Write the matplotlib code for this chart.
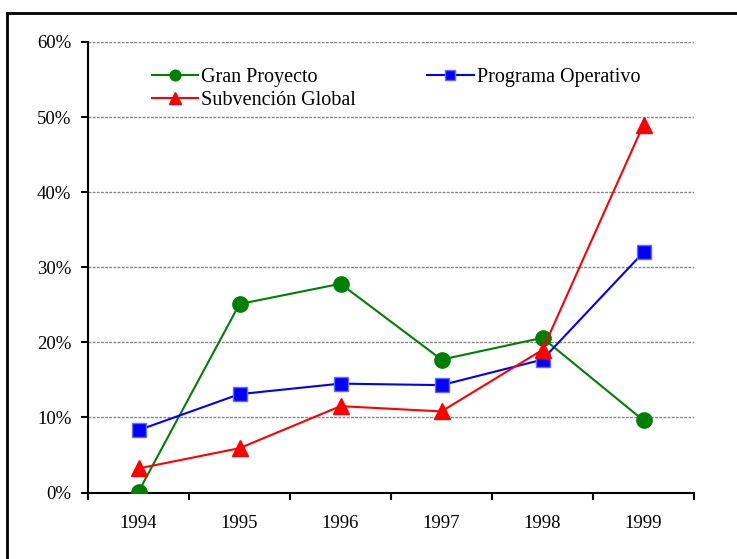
import matplotlib
matplotlib.use("Agg")
import matplotlib.pyplot as plt
from matplotlib.lines import Line2D
from matplotlib.ticker import PercentFormatter, FixedLocator, NullFormatter
import numpy as np

plt.rcParams["font.family"] = ["Liberation Serif", "DejaVu Serif"]

# share of each instrument per year (%)
years = ["1994", "1995", "1996", "1997", "1998", "1999"]
gran_proyecto = [0.1, 25.1, 27.8, 17.7, 20.6, 9.6]
programa_operativo = [8.3, 13.1, 14.5, 14.3, 17.7, 32.0]
subvencion_global = [3.2, 5.9, 11.5, 10.8, 19.0, 49.0]

fig = plt.figure(figsize=(7.37, 5.59), dpi=100)
ax = fig.add_axes([88 / 737, 1 - 492.5 / 559, 606 / 737, 450.5 / 559])

x = np.arange(len(years))
l_gp, = ax.plot(x, gran_proyecto, color="#008000", lw=1.5, marker="o",
                ms=11, mec="#008000", label="Gran Proyecto", zorder=3)
l_po, = ax.plot(x, programa_operativo, color="#0000ff", lw=1.5, marker="s",
                ms=10, mfc="#0000ff", mec="#6a6aff", mew=1.0,
                label="Programa Operativo", zorder=4)
l_sg, = ax.plot(x, subvencion_global, color="#ff0000", lw=1.5, marker="^",
                ms=12, mec="#ff0000", label="Subvención Global", zorder=5)

ax.set_xlim(-0.5, len(years) - 0.5)
ax.set_ylim(0, 60)
ax.yaxis.set_major_locator(FixedLocator(np.arange(0, 61, 10)))
ax.yaxis.set_major_formatter(PercentFormatter(decimals=0))
for v in np.arange(10, 61, 10):
    ax.axhline(v, color="#858585", lw=1.0, ls=(0, (2, 1)), zorder=1)

# ticks sit on category boundaries, labels in the middle
ax.xaxis.set_major_locator(FixedLocator(np.arange(-0.5, len(years), 1.0)))
ax.xaxis.set_major_formatter(NullFormatter())
ax.xaxis.set_minor_locator(FixedLocator(x))
ax.set_xticklabels(years, minor=True)
ax.tick_params(axis="x", which="major", direction="out", length=5, width=1.5)
ax.tick_params(axis="x", which="minor", length=0, pad=16, labelsize=13.5)
ax.tick_params(axis="y", direction="out", length=5, width=1.5, pad=7,
               labelsize=13.5)

for side in ("top", "right"):
    ax.spines[side].set_visible(False)
for side in ("left", "bottom"):
    ax.spines[side].set_linewidth(1.5)

ax.legend([l_gp, l_sg, l_po],
          ["Gran Proyecto", "Subvención Global", "Programa Operativo"],
          ncol=2, loc="upper left", bbox_to_anchor=(0.105, 0.943),
          frameon=False, fontsize=14.5, handlelength=2.3, handletextpad=0.15,
          columnspacing=3.55, labelspacing=0.2, borderpad=0,
          borderaxespad=0, markerscale=0.7)

# frame edges around the chart area
fig.add_artist(Line2D([7 / 737, 1], [1 - 13 / 559, 1 - 13 / 559],
                      color="black", lw=2.0))
fig.add_artist(Line2D([7 / 737, 7 / 737], [0, 1 - 13 / 559],
                      color="black", lw=2.0))

fig.savefig("out.png", dpi=100)
